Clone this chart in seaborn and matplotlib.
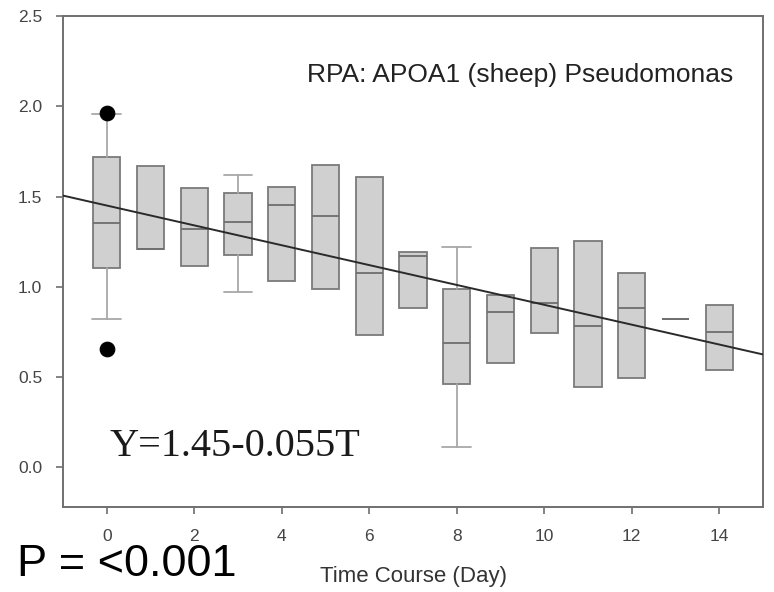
import matplotlib
matplotlib.use("Agg")
import matplotlib.pyplot as plt
import seaborn as sns
import pandas as pd

# ---- data ----
days = [0, 1, 2, 3, 4, 5, 6, 7, 8, 9, 10, 11, 12, 13, 14]
q1 = [1.105, 1.21, 1.115, 1.175, 1.03, 0.99, 0.73, 0.88, 0.46, 0.58, 0.745, 0.445, 0.495, 0.82, 0.54]
median = [1.355, 1.21, 1.32, 1.36, 1.455, 1.39, 1.075, 1.17, 0.69, 0.86, 0.91, 0.78, 0.88, 0.82, 0.75]
q3 = [1.72, 1.67, 1.545, 1.52, 1.55, 1.675, 1.61, 1.195, 0.99, 0.955, 1.215, 1.255, 1.075, 0.82, 0.90]
whisker_days = [0, 3, 8]
whisker_low = [0.82, 0.97, 0.11]
whisker_high = [1.955, 1.62, 1.22]
outlier_days = [0, 0]
outlier_values = [1.965, 0.655]
fit_intercept = 1.45
fit_slope = -0.055
fit_x = [-1, 15]
x_ticks = [0, 2, 4, 6, 8, 10, 12, 14]
y_ticks = [0.0, 0.5, 1.0, 1.5, 2.0, 2.5]

sns.set_theme(style="ticks")
plt.rcParams['font.family'] = ['Liberation Sans', 'DejaVu Sans']

fig = plt.figure(figsize=(7.74, 5.92), dpi=100)
ax = fig.add_axes([0.0814, 0.1436, 0.9044, 0.8294])

edge = "#7a7a7a"
fill = "#d0d0d0"

stats_whisk = []
stats_plain = []
pos_whisk = []
pos_plain = []
for i, d in enumerate(days):
    s = dict(med=median[i], q1=q1[i], q3=q3[i], fliers=[])
    if d in whisker_days:
        j = whisker_days.index(d)
        s["whislo"] = whisker_low[j]
        s["whishi"] = whisker_high[j]
        stats_whisk.append(s)
        pos_whisk.append(d)
    else:
        s["whislo"] = q1[i]
        s["whishi"] = q3[i]
        stats_plain.append(s)
        pos_plain.append(d)

boxprops = dict(facecolor=fill, edgecolor=edge, linewidth=1.3)
medianprops = dict(color="#6e6e6e", linewidth=1.3)
whiskerprops = dict(color="#a8a8a8", linewidth=1.3)
capprops = dict(color="#a8a8a8", linewidth=1.3)

ax.bxp(stats_whisk, positions=pos_whisk, widths=0.62, capwidths=0.66,
       patch_artist=True, showfliers=False, boxprops=boxprops,
       medianprops=medianprops, whiskerprops=whiskerprops, capprops=capprops,
       manage_ticks=False)
ax.bxp(stats_plain, positions=pos_plain, widths=0.62, showcaps=False,
       patch_artist=True, showfliers=False, boxprops=boxprops,
       medianprops=medianprops, whiskerprops=dict(linewidth=0),
       manage_ticks=False)

# outliers
sns.scatterplot(x=outlier_days, y=outlier_values, ax=ax, color="black",
                s=110, edgecolor="black", zorder=5, legend=False)

# regression line
fit_df = pd.DataFrame({"x": fit_x, "y": [fit_intercept + fit_slope * v for v in fit_x]})
sns.lineplot(data=fit_df, x="x", y="y", ax=ax, color="#2a2a2a", linewidth=1.4, zorder=6)

ax.set_xlim(-1, 15)
ax.set_ylim(-0.22, 2.5)
ax.set_xticks(x_ticks)
ax.set_xticklabels([str(t) for t in x_ticks])
ax.set_yticks(y_ticks)
ax.set_yticklabels([f"{t:.1f}" for t in y_ticks])
ax.tick_params(axis="both", direction="out", length=5, width=1.2, color="#707070",
               labelsize=12.5, labelcolor="#444444")
ax.tick_params(axis="x", pad=11)
ax.tick_params(axis="y", pad=10)
for sp in ax.spines.values():
    sp.set_visible(True)
    sp.set_color("#707070")
    sp.set_linewidth(1.4)

ax.set_xlabel("Time Course (Day)", fontsize=16, color="#333333", labelpad=16)
ax.set_ylabel("")

fig.text(733 / 774, 1 - 75 / 592, "RPA: APOA1 (sheep) Pseudomonas",
         ha="right", va="center", fontsize=19, color="#222222")

fig.text(110 / 774, 1 - 447 / 592, "Y=1.45-0.055T", ha="left", va="center",
         fontsize=29, family=["Liberation Serif", "DejaVu Serif"], color="#1a1a1a")

fig.text(17 / 774, 1 - 576 / 592, "P = <0.001", ha="left", va="baseline",
         fontsize=32.5, color="black")

fig.savefig("out.png", dpi=100)
